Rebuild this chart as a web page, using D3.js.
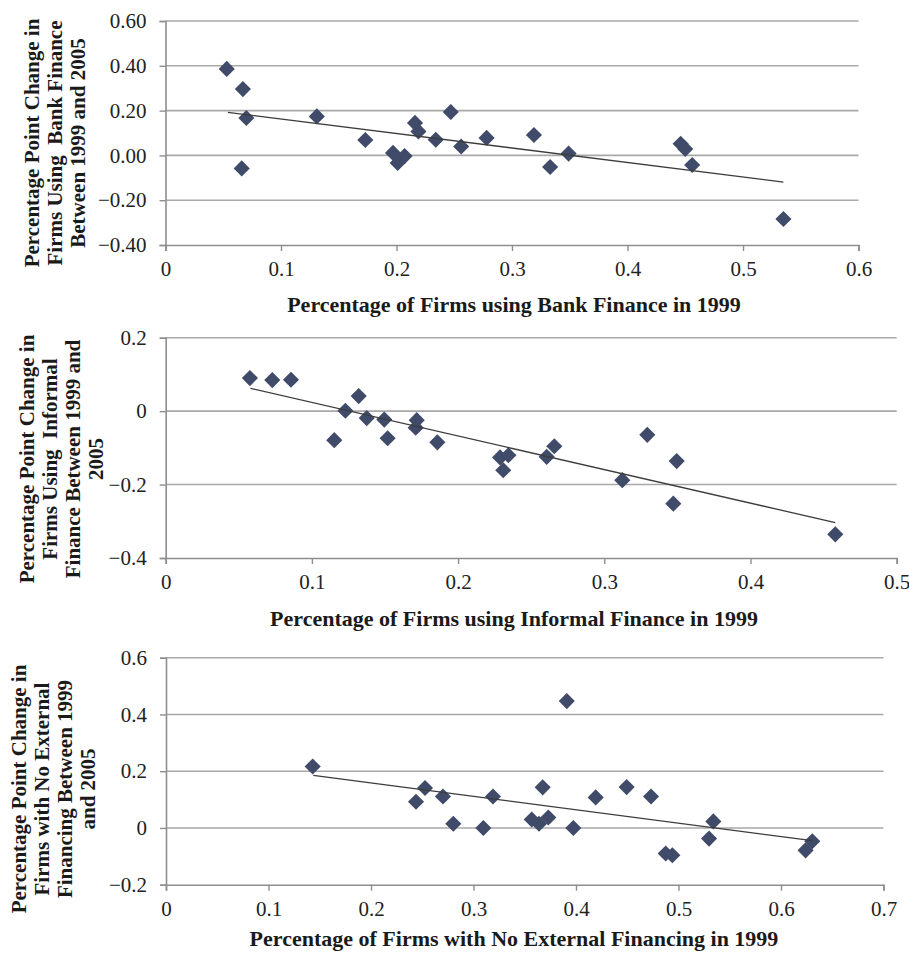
<!DOCTYPE html>
<html>
<head>
<meta charset="utf-8">
<script src="https://cdn.jsdelivr.net/npm/d3@7"></script>
<style>
  html, body { margin: 0; padding: 0; background: #fff; }
  svg { display: block; }
  .tick text { font-family: "Liberation Serif", "Times New Roman", serif; font-size: 21px; fill: #222; }
  .axis-title { font-family: "Liberation Serif", "Times New Roman", serif; font-weight: bold; font-size: 22px; fill: #1a1a1a; }
  .y-title { font-family: "Liberation Serif", "Times New Roman", serif; font-weight: bold; font-size: 21px; fill: #1a1a1a; }
</style>
</head>
<body>
<script>
// Panel 1: bank finance
const bankX = [0.053, 0.067, 0.070, 0.066, 0.131, 0.173, 0.197, 0.201, 0.207, 0.216, 0.219,
               0.234, 0.247, 0.256, 0.278, 0.319, 0.333, 0.349, 0.446, 0.450, 0.456, 0.535];
const bankY = [0.386, 0.296, 0.167, -0.058, 0.174, 0.069, 0.011, -0.034, -0.003, 0.145, 0.107,
               0.070, 0.194, 0.040, 0.078, 0.091, -0.052, 0.008, 0.052, 0.029, -0.043, -0.284];
const bankTrendX = [0.054, 0.535];
const bankTrendY = [0.192, -0.119];
const bankXTicks = [0, 0.1, 0.2, 0.3, 0.4, 0.5, 0.6];
const bankYTicks = [-0.4, -0.2, 0, 0.2, 0.4, 0.6];

// Panel 2: informal finance
const infX = [0.0576, 0.0729, 0.0857, 0.132, 0.1229, 0.1375, 0.1495, 0.1153, 0.1518, 0.1717, 0.171,
              0.1858, 0.2287, 0.2344, 0.2309, 0.2606, 0.2658, 0.3123, 0.3294, 0.3495, 0.3472, 0.458];
const infY = [0.090, 0.0845, 0.0855, 0.041, 0.001, -0.019, -0.023, -0.079, -0.074, -0.0245, -0.045,
              -0.085, -0.126, -0.120, -0.161, -0.1245, -0.0955, -0.188, -0.0645, -0.136, -0.252, -0.3355];
const infTrendX = [0.058, 0.458];
const infTrendY = [0.062, -0.3036];
const infXTicks = [0, 0.1, 0.2, 0.3, 0.4, 0.5];
const infYTicks = [-0.4, -0.2, 0, 0.2];

// Panel 3: no external financing
const noExtX = [0.1431, 0.2439, 0.2527, 0.2702, 0.2803, 0.3096, 0.319, 0.3568, 0.3639, 0.3675, 0.373,
                0.391, 0.3974, 0.4192, 0.4494, 0.4732, 0.4875, 0.494, 0.5298, 0.534, 0.624, 0.6305];
const noExtY = [0.2166, 0.0925, 0.1406, 0.111, 0.015, 0.0, 0.111, 0.030, 0.015, 0.143, 0.037,
                0.447, 0.0, 0.1077, 0.144, 0.111, -0.090, -0.096, -0.0376, 0.023, -0.079, -0.047];
const noExtTrendX = [0.1437, 0.6305];
const noExtTrendY = [0.185, -0.0447];
const noExtXTicks = [0, 0.1, 0.2, 0.3, 0.4, 0.5, 0.6, 0.7];
const noExtYTicks = [-0.2, 0, 0.2, 0.4, 0.6];

const xTitles = [
  "Percentage of Firms using Bank Finance in 1999",
  "Percentage of Firms using Informal Finance in 1999",
  "Percentage of Firms with No External Financing in 1999"
];
const yTitles = [
  ["Percentage Point Change in", "Firms Using  Bank Finance", "Between 1999 and 2005"],
  ["Percentage Point Change in", "Firms Using  Informal", "Finance Between 1999 and", "2005"],
  ["Percentage Point Change in", "Firms with No External", "Financing Between 1999", "and 2005"]
];

const W = 909, H = 961;
const svg = d3.select("body").append("svg").attr("width", W).attr("height", H);
svg.append("rect").attr("width", W).attr("height", H).attr("fill", "#fff");

const MARK = "#3f4b69", GRID = "#a8a8a8", AXIS = "#8e8e8e";

const panels = [
  { xs: bankX, ys: bankY, tx: bankTrendX, ty: bankTrendY, xTicks: bankXTicks, yTicks: bankYTicks,
    yFmt: d3.format(".2f"), xDom: [0, 0.6], yDom: [-0.4, 0.6],
    left: 165.5, right: 858.5, top: 21, bottom: 245,
    xTitleY: 304, yTitleCenter: 143, yTitleX0: 31.7, xTitle: xTitles[0], yTitle: yTitles[0] },
  { xs: infX, ys: infY, tx: infTrendX, ty: infTrendY, xTicks: infXTicks, yTicks: infYTicks,
    yFmt: d => d3.format("")(+d.toFixed(1)), xDom: [0, 0.5], yDom: [-0.4, 0.2],
    left: 165.7, right: 896.7, top: 337.7, bottom: 558,
    xTitleY: 618.5, yTitleCenter: 459, yTitleX0: 26.7, xTitle: xTitles[1], yTitle: yTitles[1] },
  { xs: noExtX, ys: noExtY, tx: noExtTrendX, ty: noExtTrendY, xTicks: noExtXTicks, yTicks: noExtYTicks,
    yFmt: d => d3.format("")(+d.toFixed(1)), xDom: [0, 0.7], yDom: [-0.2, 0.6],
    left: 166, right: 883.5, top: 657.7, bottom: 884.7,
    xTitleY: 938, yTitleCenter: 789, yTitleX0: 18.5, xTitle: xTitles[2], yTitle: yTitles[2] }
];

const xFmt = d => d === 0 ? "0" : d3.format("")(+d.toFixed(1));
const diamond = d3.symbol().type(d3.symbolSquare).size(130);

panels.forEach(p => {
  const x = d3.scaleLinear().domain(p.xDom).range([p.left, p.right]);
  const y = d3.scaleLinear().domain(p.yDom).range([p.bottom, p.top]);
  const g = svg.append("g");

  // horizontal gridlines
  g.append("g").selectAll("line").data(p.yTicks.filter(t => t !== p.yDom[0])).join("line")
    .attr("x1", p.left).attr("x2", p.right)
    .attr("y1", d => y(d)).attr("y2", d => y(d))
    .attr("stroke", GRID).attr("stroke-width", 1.6);

  // y axis
  const ya = g.append("g").attr("transform", `translate(${p.left},0)`)
    .call(d3.axisLeft(y).tickValues(p.yTicks).tickFormat(p.yFmt).tickSize(6).tickPadding(13));
  ya.select(".domain").attr("stroke", AXIS).attr("stroke-width", 1.6);
  ya.selectAll(".tick line").attr("stroke", AXIS).attr("stroke-width", 1.4);

  // x axis
  const xa = g.append("g").attr("transform", `translate(0,${p.bottom})`)
    .call(d3.axisBottom(x).tickValues(p.xTicks).tickFormat(xFmt).tickSize(6).tickPadding(10));
  xa.select(".domain").attr("stroke", AXIS).attr("stroke-width", 1.6);
  xa.selectAll(".tick line").attr("stroke", AXIS).attr("stroke-width", 1.4);

  // points
  const pts = p.xs.map((v, i) => [v, p.ys[i]]);
  g.append("g").selectAll("path").data(pts).join("path")
    .attr("d", diamond)
    .attr("transform", d => `translate(${x(d[0])},${y(d[1])}) rotate(45)`)
    .attr("fill", MARK);

  // linear trend line
  const trend = p.tx.map((v, i) => [v, p.ty[i]]);
  g.append("path").datum(trend)
    .attr("d", d3.line().x(d => x(d[0])).y(d => y(d[1])))
    .attr("fill", "none").attr("stroke", "#3c3c3c").attr("stroke-width", 1.3);

  // x title
  g.append("text").attr("class", "axis-title")
    .attr("x", 514).attr("y", p.xTitleY).attr("text-anchor", "middle")
    .attr("dominant-baseline", "central").text(p.xTitle);

  // y title (rotated, multi-line)
  const yt = g.append("text").attr("class", "y-title").attr("text-anchor", "middle")
    .attr("transform", `translate(${p.yTitleX0},${p.yTitleCenter}) rotate(-90)`);
  p.yTitle.forEach((line, i) => {
    yt.append("tspan").attr("x", 0).attr("y", i * 23)
      .attr("dominant-baseline", "central").attr("xml:space", "preserve").text(line);
  });
});
</script>
</body>
</html>
